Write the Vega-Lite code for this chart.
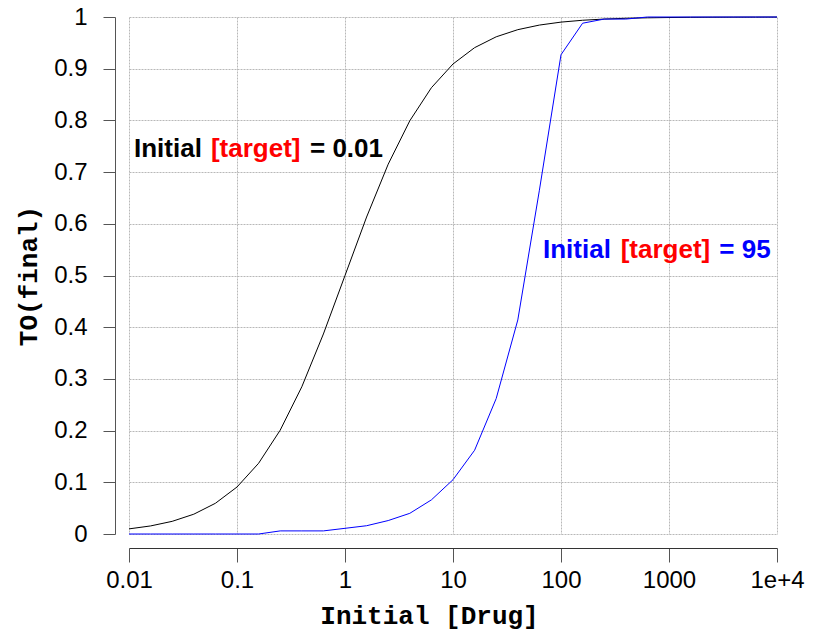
{
  "$schema": "https://vega.github.io/schema/vega-lite/v6.json",
  "width": 648,
  "height": 517,
  "autosize": "none",
  "padding": {"left": 129, "top": 17, "right": 50, "bottom": 102},
  "background": "white",
  "config": {
    "view": {"stroke": null},
    "font": "Liberation Sans"
  },
  "datasets": {
    "curves": [
      {"drug": 0.01, "to": 0.0099, "series": "t0.01"},
      {"drug": 0.01585, "to": 0.0156, "series": "t0.01"},
      {"drug": 0.02512, "to": 0.0245, "series": "t0.01"},
      {"drug": 0.03981, "to": 0.0383, "series": "t0.01"},
      {"drug": 0.0631, "to": 0.0594, "series": "t0.01"},
      {"drug": 0.1, "to": 0.0909, "series": "t0.01"},
      {"drug": 0.1585, "to": 0.1368, "series": "t0.01"},
      {"drug": 0.2512, "to": 0.2008, "series": "t0.01"},
      {"drug": 0.3981, "to": 0.2847, "series": "t0.01"},
      {"drug": 0.631, "to": 0.3869, "series": "t0.01"},
      {"drug": 1, "to": 0.5, "series": "t0.01"},
      {"drug": 1.585, "to": 0.6131, "series": "t0.01"},
      {"drug": 2.512, "to": 0.7153, "series": "t0.01"},
      {"drug": 3.981, "to": 0.7993, "series": "t0.01"},
      {"drug": 6.31, "to": 0.8632, "series": "t0.01"},
      {"drug": 10, "to": 0.9091, "series": "t0.01"},
      {"drug": 15.85, "to": 0.9407, "series": "t0.01"},
      {"drug": 25.12, "to": 0.9617, "series": "t0.01"},
      {"drug": 39.81, "to": 0.9755, "series": "t0.01"},
      {"drug": 63.1, "to": 0.9844, "series": "t0.01"},
      {"drug": 100, "to": 0.9901, "series": "t0.01"},
      {"drug": 158.5, "to": 0.9937, "series": "t0.01"},
      {"drug": 251.2, "to": 0.996, "series": "t0.01"},
      {"drug": 398.1, "to": 0.9975, "series": "t0.01"},
      {"drug": 631, "to": 0.9984, "series": "t0.01"},
      {"drug": 1000, "to": 0.999, "series": "t0.01"},
      {"drug": 1585, "to": 0.9994, "series": "t0.01"},
      {"drug": 2512, "to": 0.9996, "series": "t0.01"},
      {"drug": 3981, "to": 0.9997, "series": "t0.01"},
      {"drug": 6310, "to": 0.9998, "series": "t0.01"},
      {"drug": 10000, "to": 0.9999, "series": "t0.01"},
      {"drug": 0.01, "to": 0, "series": "t95"},
      {"drug": 0.01585, "to": 0, "series": "t95"},
      {"drug": 0.02512, "to": 0, "series": "t95"},
      {"drug": 0.03981, "to": 0, "series": "t95"},
      {"drug": 0.0631, "to": 0, "series": "t95"},
      {"drug": 0.1, "to": 0, "series": "t95"},
      {"drug": 0.1585, "to": 0, "series": "t95"},
      {"drug": 0.2512, "to": 0.006, "series": "t95"},
      {"drug": 0.3981, "to": 0.006, "series": "t95"},
      {"drug": 0.631, "to": 0.006, "series": "t95"},
      {"drug": 1, "to": 0.011, "series": "t95"},
      {"drug": 1.585, "to": 0.016, "series": "t95"},
      {"drug": 2.512, "to": 0.026, "series": "t95"},
      {"drug": 3.981, "to": 0.04, "series": "t95"},
      {"drug": 6.31, "to": 0.066, "series": "t95"},
      {"drug": 10, "to": 0.105, "series": "t95"},
      {"drug": 15.85, "to": 0.162, "series": "t95"},
      {"drug": 25.12, "to": 0.262, "series": "t95"},
      {"drug": 39.81, "to": 0.414, "series": "t95"},
      {"drug": 63.1, "to": 0.665, "series": "t95"},
      {"drug": 100, "to": 0.927, "series": "t95"},
      {"drug": 158.5, "to": 0.988, "series": "t95"},
      {"drug": 251.2, "to": 0.996, "series": "t95"},
      {"drug": 398.1, "to": 0.996, "series": "t95"},
      {"drug": 631, "to": 1, "series": "t95"},
      {"drug": 1000, "to": 1, "series": "t95"},
      {"drug": 1585, "to": 1, "series": "t95"},
      {"drug": 2512, "to": 1, "series": "t95"},
      {"drug": 3981, "to": 1, "series": "t95"},
      {"drug": 6310, "to": 1, "series": "t95"},
      {"drug": 10000, "to": 1, "series": "t95"}
    ],
    "labels": [
      {"drug": 0.01112, "to": 0.7298, "role": "t0.01", "text": "Initial"},
      {"drug": 0.0574, "to": 0.7298, "role": "target", "text": "[target]"},
      {"drug": 0.474, "to": 0.7298, "role": "t0.01", "text": "= 0.01"},
      {"drug": 68.1, "to": 0.5333, "role": "t95", "text": "Initial"},
      {"drug": 357, "to": 0.5333, "role": "target", "text": "[target]"},
      {"drug": 2924, "to": 0.5333, "role": "t95", "text": "= 95"}
    ]
  },
  "layer": [
    {
      "data": {"name": "curves"},
      "mark": {"type": "line", "strokeWidth": 1, "interpolate": "linear"},
      "encoding": {
        "x": {
          "field": "drug",
          "type": "quantitative",
          "scale": {"type": "log", "domain": [0.01, 10000], "nice": false},
          "axis": {
            "values": [0.01, 0.1, 1, 10, 100, 1000, 10000],
            "labelExpr": "datum.value >= 10000 ? '1e+4' : format(datum.value, '~g')",
            "title": "Initial [Drug]",
            "titleFont": "Liberation Mono",
            "titleFontWeight": "bold",
            "titleFontSize": 26,
            "titleColor": "black",
            "titleX": 300,
            "titlePadding": 10,
            "labelFont": "Liberation Sans",
            "labelFontSize": 24,
            "labelColor": "black",
            "labelPadding": 6,
            "labelFlush": false,
            "labelOverlap": false,
            "offset": 14,
            "tickSize": 14,
            "tickColor": "#555",
            "domainColor": "#333",
            "grid": true,
            "gridColor": "#b8b8b8",
            "gridDash": [2, 1],
            "gridWidth": 1
          }
        },
        "y": {
          "field": "to",
          "type": "quantitative",
          "scale": {"domain": [0, 1], "nice": false, "zero": false},
          "axis": {
            "values": [0, 0.1, 0.2, 0.3, 0.4, 0.5, 0.6, 0.7, 0.8, 0.9, 1],
            "format": "~g",
            "title": "TO(final)",
            "titleFont": "Liberation Mono",
            "titleFontWeight": "bold",
            "titleFontSize": 26,
            "titleColor": "black",
            "titlePadding": 12,
            "labelFont": "Liberation Sans",
            "labelFontSize": 24,
            "labelColor": "black",
            "labelPadding": 16,
            "labelFlush": false,
            "labelOverlap": false,
            "offset": 14,
            "tickSize": 12,
            "tickColor": "#555",
            "domainColor": "#555",
            "grid": true,
            "gridColor": "#b8b8b8",
            "gridDash": [2, 1],
            "gridWidth": 1
          }
        },
        "color": {
          "field": "series",
          "type": "nominal",
          "scale": {"domain": ["t0.01", "t95"], "range": ["#000000", "#0000ff"]},
          "legend": null
        }
      }
    },
    {
      "data": {"name": "labels"},
      "mark": {"type": "text", "align": "left", "baseline": "alphabetic", "font": "Liberation Sans", "fontWeight": "bold", "fontSize": 26},
      "encoding": {
        "x": {"field": "drug", "type": "quantitative"},
        "y": {"field": "to", "type": "quantitative"},
        "text": {"field": "text"},
        "color": {
          "field": "role",
          "type": "nominal",
          "scale": {"domain": ["t0.01", "t95", "target"], "range": ["#000000", "#0000ff", "#ff0000"]},
          "legend": null
        }
      }
    }
  ],
  "resolve": {"scale": {"color": "independent"}}
}
